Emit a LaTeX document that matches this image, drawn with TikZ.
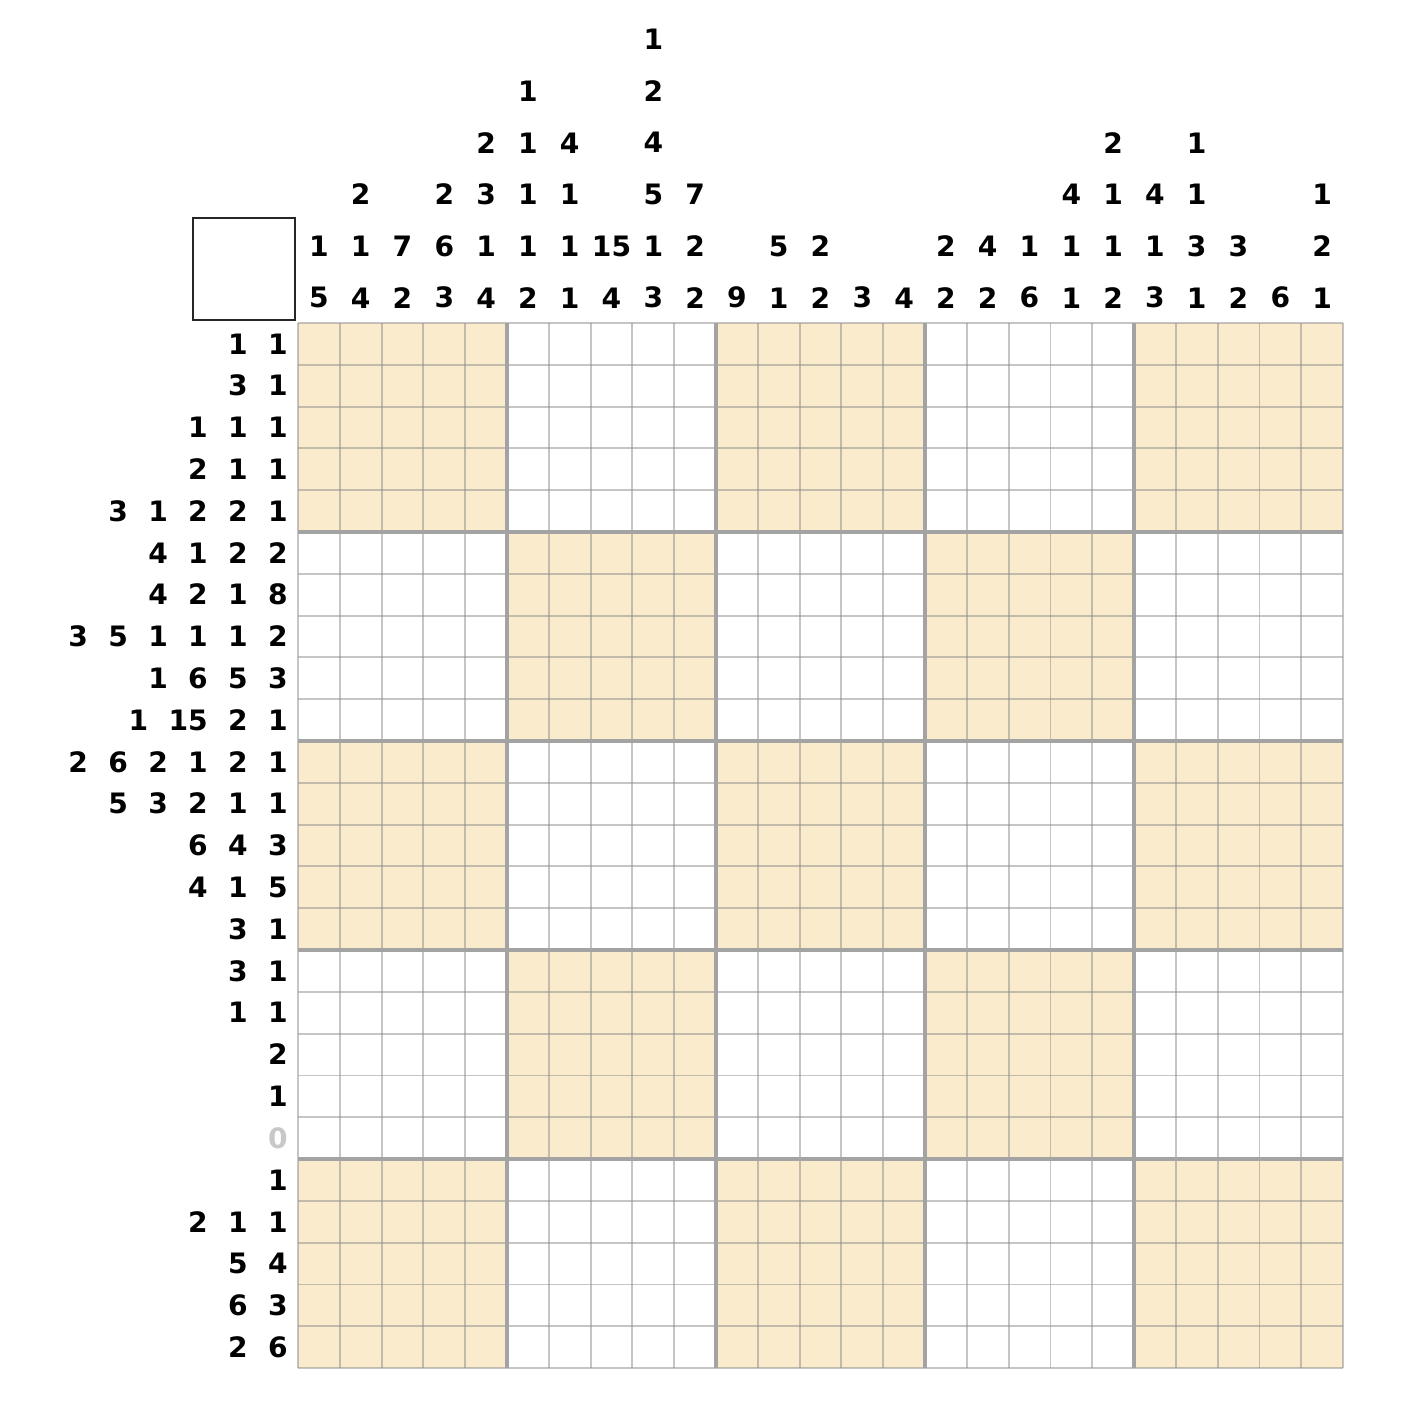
\documentclass[tikz,border=0pt]{standalone}
\usepackage{fontspec}
\setmainfont{DejaVu Sans}

\definecolor{cellfill}{RGB}{249,235,204}
\definecolor{gridthin}{RGB}{140,140,140}
\definecolor{gridthick}{RGB}{163,163,163}
\definecolor{zerogray}{RGB}{200,200,200}

% numbers of a row clue, set side by side with a fixed gap
\newcommand{\cluegap}[1]{\foreach[count=\n] \v in #1{\ifnum\n>1 \hspace{29pt}\fi\v}}

\begin{document}
\begin{tikzpicture}[x=0.05cm, y=-0.05cm]
        \useasboundingbox (0,0) rectangle (1416,1422);
        \tikzset{
            clue/.style={inner sep=0pt, font=\fontsize{40}{73.4}\selectfont\bfseries},
            row clue/.style={clue, anchor=east},
            col clue/.style={clue, anchor=south, align=center},
            thin rule/.style={gridthin, draw opacity=0.5, line width=2.6pt},
            thick rule/.style={gridthick, line width=5.7pt},
        }

        % shaded 5x5 blocks (checkerboard)
        \foreach \bx in {0,...,4} {
            \foreach \by in {0,...,4} {
                \pgfmathparse{int(mod(\bx+\by,2))}
                \ifnum\pgfmathresult=0
                    \fill[cellfill] (298+\bx*209,323+\by*209) rectangle ++(209,209);
                \fi
            }
        }

        % cell lines
        \foreach \i in {0,...,25} {
            \draw[thin rule] (298+\i*41.8,323) -- (298+\i*41.8,1368);
            \draw[thin rule] (298,323+\i*41.8) -- (1343,323+\i*41.8);
        }
        % block lines
        \foreach \i in {1,...,4} {
            \draw[thick rule] (298+\i*209,323) -- (298+\i*209,1368);
            \draw[thick rule] (298,323+\i*209) -- (1343,323+\i*209);
        }

        % empty corner box
        \draw[black!85, line width=2.6pt] (193,218) rectangle (295,320);

        % column clues, top to bottom
        \foreach \c/\txt in {1/{1\\5}, 2/{2\\1\\4}, 3/{7\\2}, 4/{2\\6\\3}, 5/{2\\3\\1\\4},
                6/{1\\1\\1\\1\\2}, 7/{4\\1\\1\\1}, 8/{15\\4}, 9/{1\\2\\4\\5\\1\\3}, 10/{7\\2\\2},
                11/{9}, 12/{5\\1}, 13/{2\\2}, 14/{3}, 15/{4},
                16/{2\\2}, 17/{4\\2}, 18/{1\\6}, 19/{4\\1\\1}, 20/{2\\1\\1\\2},
                21/{4\\1\\3}, 22/{1\\1\\3\\1}, 23/{3\\2}, 24/{6}, 25/{1\\2\\1}} {
            \node[col clue] (col\c) at (298+\c*41.8-20.9,308.3) {\txt};
        }

        % row clues, left to right
        \foreach \r/\txt in {1/{1,1}, 2/{3,1}, 3/{1,1,1}, 4/{2,1,1}, 5/{3,1,2,2,1},
                6/{4,1,2,2}, 7/{4,2,1,8}, 8/{3,5,1,1,1,2}, 9/{1,6,5,3}, 10/{1,15,2,1},
                11/{2,6,2,1,2,1}, 12/{5,3,2,1,1}, 13/{6,4,3}, 14/{4,1,5}, 15/{3,1},
                16/{3,1}, 17/{1,1}, 18/{2}, 19/{1}, 20/{{\color{zerogray}0}},
                21/{1}, 22/{2,1,1}, 23/{5,4}, 24/{6,3}, 25/{2,6}} {
            \node[row clue] (row\r) at (287.8,323+\r*41.8-20.9) {\cluegap{\txt}};
        }
\end{tikzpicture}
\end{document}
